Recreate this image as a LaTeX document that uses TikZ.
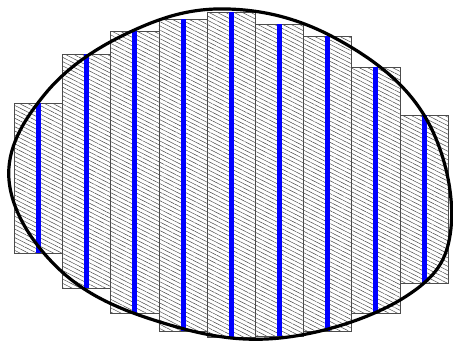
\documentclass[tikz,border=0pt]{standalone}
\usetikzlibrary{patterns.meta}

\begin{document}
\begin{tikzpicture}[x=1pt,y=-1pt,
  strip/.style={draw=black!70,line width=0.8pt,
    pattern={Lines[angle=-27,distance=3.8pt,line width=0.5pt]},pattern color=black!70},
  midline/.style={draw=blue,line width=5pt},
  rim/.style={draw=black,line width=3.2pt}]
\useasboundingbox (0,0) rectangle (453,341);
% strips with their midpoint heights
\foreach \i/\t/\b in {0/103/253,1/54/288,2/31/313,3/19/331,4/12/337,
                      5/24/336,6/36/331,7/67/313,8/115/283}{
  \draw[strip] ({14.3+48.2*\i},\t) rectangle ({62.5+48.2*\i},\b);
  \draw[midline] ({38.4+48.2*\i},\t) -- ({38.4+48.2*\i},\b);
}
% boundary curve
\draw[rim] plot[smooth cycle,tension=0.65] coordinates {
  (9,180) (45,94) (130,32) (228,9) (335,38) (424,115) (451,228)
  (405,297) (280,338) (160,322) (60,270)};
\end{tikzpicture}
\end{document}
